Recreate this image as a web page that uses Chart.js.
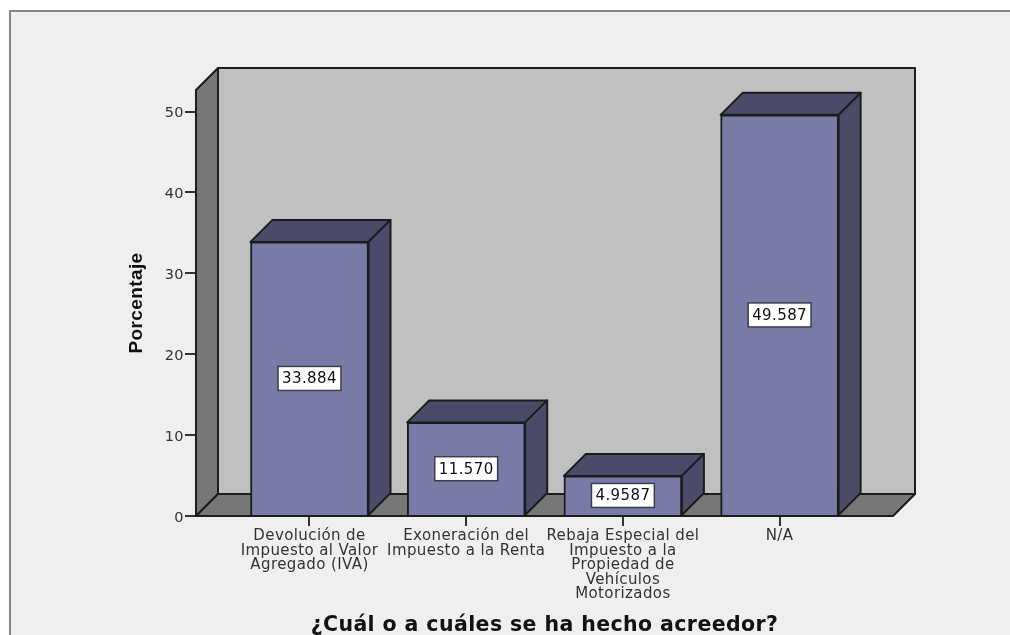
<!DOCTYPE html>
<html lang="es">
<head>
<meta charset="utf-8">
<title>¿Cuál o a cuáles se ha hecho acreedor?</title>
<script src="https://cdn.jsdelivr.net/npm/chart.js@4/dist/chart.umd.min.js"></script>
<style>
  html, body { margin: 0; padding: 0; background: #ffffff; overflow: hidden; }
  canvas { display: block; }
</style>
</head>
<body>
<canvas id="grafico" width="1010" height="635"></canvas>
<script>
// Datos
const categorias = [
  ["Devolución de", "Impuesto al Valor", "Agregado (IVA)"],
  ["Exoneración del", "Impuesto a la Renta"],
  ["Rebaja Especial del", "Impuesto a la", "Propiedad de", "Vehículos", "Motorizados"],
  ["N/A"],
];
const porcentajes = [33.884, 11.57, 4.9587, 49.587];
const etiquetas = ["33.884", "11.570", "4.9587", "49.587"];

// Profundidad del efecto 3D en pixeles
const fondo = 22;
const borde = "#1c1c1c";

// Dibuja un poligono relleno con borde
function poligono(ctx, puntos, relleno) {
  ctx.beginPath();
  puntos.forEach((p, i) => (i ? ctx.lineTo(p[0], p[1]) : ctx.moveTo(p[0], p[1])));
  ctx.closePath();
  ctx.fillStyle = relleno;
  ctx.fill();
  ctx.strokeStyle = borde;
  ctx.lineWidth = 2;
  ctx.lineJoin = "round";
  ctx.stroke();
}

// Fondo de la pagina con el marco gris arriba y a la izquierda
const marco = {
  id: "marco",
  beforeDraw(chart) {
    const ctx = chart.ctx;
    ctx.save();
    ctx.fillStyle = "#ffffff";
    ctx.fillRect(0, 0, chart.width, chart.height);
    ctx.fillStyle = "#efefef";
    ctx.fillRect(9, 10, chart.width, chart.height);
    ctx.fillStyle = "#858585";
    ctx.fillRect(9, 10, chart.width, 2);
    ctx.fillRect(9, 10, 2, chart.height);
    ctx.restore();
    // El texto original esta algo estirado a lo ancho
    ctx.letterSpacing = "0.4px";
  },
};

// Paredes, suelo y caras laterales de las barras
const cajas3d = {
  id: "cajas3d",
  beforeDatasetsDraw(chart) {
    const ctx = chart.ctx;
    const { left, right, top, bottom } = chart.chartArea;
    ctx.save();
    poligono(ctx, [[left + fondo, top - fondo], [right + fondo, top - fondo], [right + fondo, bottom - fondo], [left + fondo, bottom - fondo]], "#c0c0c0");
    poligono(ctx, [[left, top], [left + fondo, top - fondo], [left + fondo, bottom - fondo], [left, bottom]], "#777777");
    poligono(ctx, [[left, bottom], [left + fondo, bottom - fondo], [right + fondo, bottom - fondo], [right, bottom]], "#777777");
    chart.getDatasetMeta(0).data.forEach((barra) => {
      const x0 = barra.x - barra.width / 2;
      const x1 = barra.x + barra.width / 2;
      poligono(ctx, [[x0, barra.y], [x0 + fondo, barra.y - fondo], [x1 + fondo, barra.y - fondo], [x1, barra.y]], "#4b4b69");
      poligono(ctx, [[x1, barra.y], [x1 + fondo, barra.y - fondo], [x1 + fondo, barra.base - fondo], [x1, barra.base]], "#4b4b69");
    });
    ctx.restore();
  },
  afterDatasetsDraw(chart) {
    const ctx = chart.ctx;
    ctx.save();
    ctx.font = '15px "DejaVu Sans"';
    ctx.textAlign = "center";
    ctx.textBaseline = "middle";
    chart.getDatasetMeta(0).data.forEach((barra, i) => {
      const medio = (barra.y + barra.base) / 2;
      const ancho = ctx.measureText(etiquetas[i]).width + 8;
      ctx.fillStyle = "#ffffff";
      ctx.fillRect(barra.x - ancho / 2, medio - 12, ancho, 24);
      ctx.strokeStyle = "#3c3c50";
      ctx.lineWidth = 1.5;
      ctx.strokeRect(barra.x - ancho / 2, medio - 12, ancho, 24);
      ctx.fillStyle = "#111111";
      ctx.fillText(etiquetas[i], barra.x, medio + 1);
    });
    ctx.restore();
  },
};

new Chart(document.getElementById("grafico"), {
  type: "bar",
  data: {
    datasets: [
      {
        data: porcentajes.map((v, i) => ({ x: i, y: v })),
        backgroundColor: "#7a7aa6",
        borderColor: borde,
        borderWidth: 2,
        barThickness: 118,
      },
    ],
  },
  plugins: [marco, cajas3d],
  options: {
    responsive: false,
    animation: false,
    layout: { padding: { top: 90, right: 117, left: 0, bottom: 0 } },
    plugins: { legend: { display: false }, tooltip: { enabled: false } },
    scales: {
      x: {
        type: "linear",
        offset: false,
        min: -0.7243,
        max: 3.7237,
        grid: { offset: false, drawOnChartArea: false, drawTicks: true, tickLength: 10, color: "#333333", lineWidth: 2 },
        border: { display: false },
        // Una marca por categoria, con su texto
        afterBuildTicks: (escala) => {
          escala.ticks = categorias.map((c, i) => ({ value: i }));
        },
        afterFit: (escala) => {
          escala.height = 119;
        },
        ticks: {
          callback: (v) => categorias[v],
          autoSkip: false,
          maxRotation: 0,
          padding: 3,
          color: "#333333",
          font: { family: '"DejaVu Sans"', size: 15, lineHeight: 0.97 },
        },
        title: {
          display: true,
          text: "¿Cuál o a cuáles se ha hecho acreedor?",
          color: "#111111",
          font: { family: '"DejaVu Sans"', size: 20.5, weight: "bold", lineHeight: 1.2 },
          padding: { top: 0, bottom: -3 },
        },
      },
      y: {
        min: 0,
        max: 52.66,
        grid: { drawOnChartArea: false, tickLength: 11, color: "#333333", lineWidth: 2 },
        border: { display: false },
        afterFit: (escala) => {
          escala.width = 196;
        },
        ticks: {
          stepSize: 10,
          includeBounds: false,
          padding: 1,
          labelOffset: 2,
          color: "#333333",
          font: { family: '"DejaVu Sans"', size: 14.5 },
        },
        title: {
          display: true,
          text: "Porcentaje",
          color: "#111111",
          font: { family: '"Liberation Sans"', size: 19, weight: "bold", lineHeight: 1.2 },
          padding: { top: 125, bottom: 0 },
        },
      },
    },
  },
});
</script>
</body>
</html>
